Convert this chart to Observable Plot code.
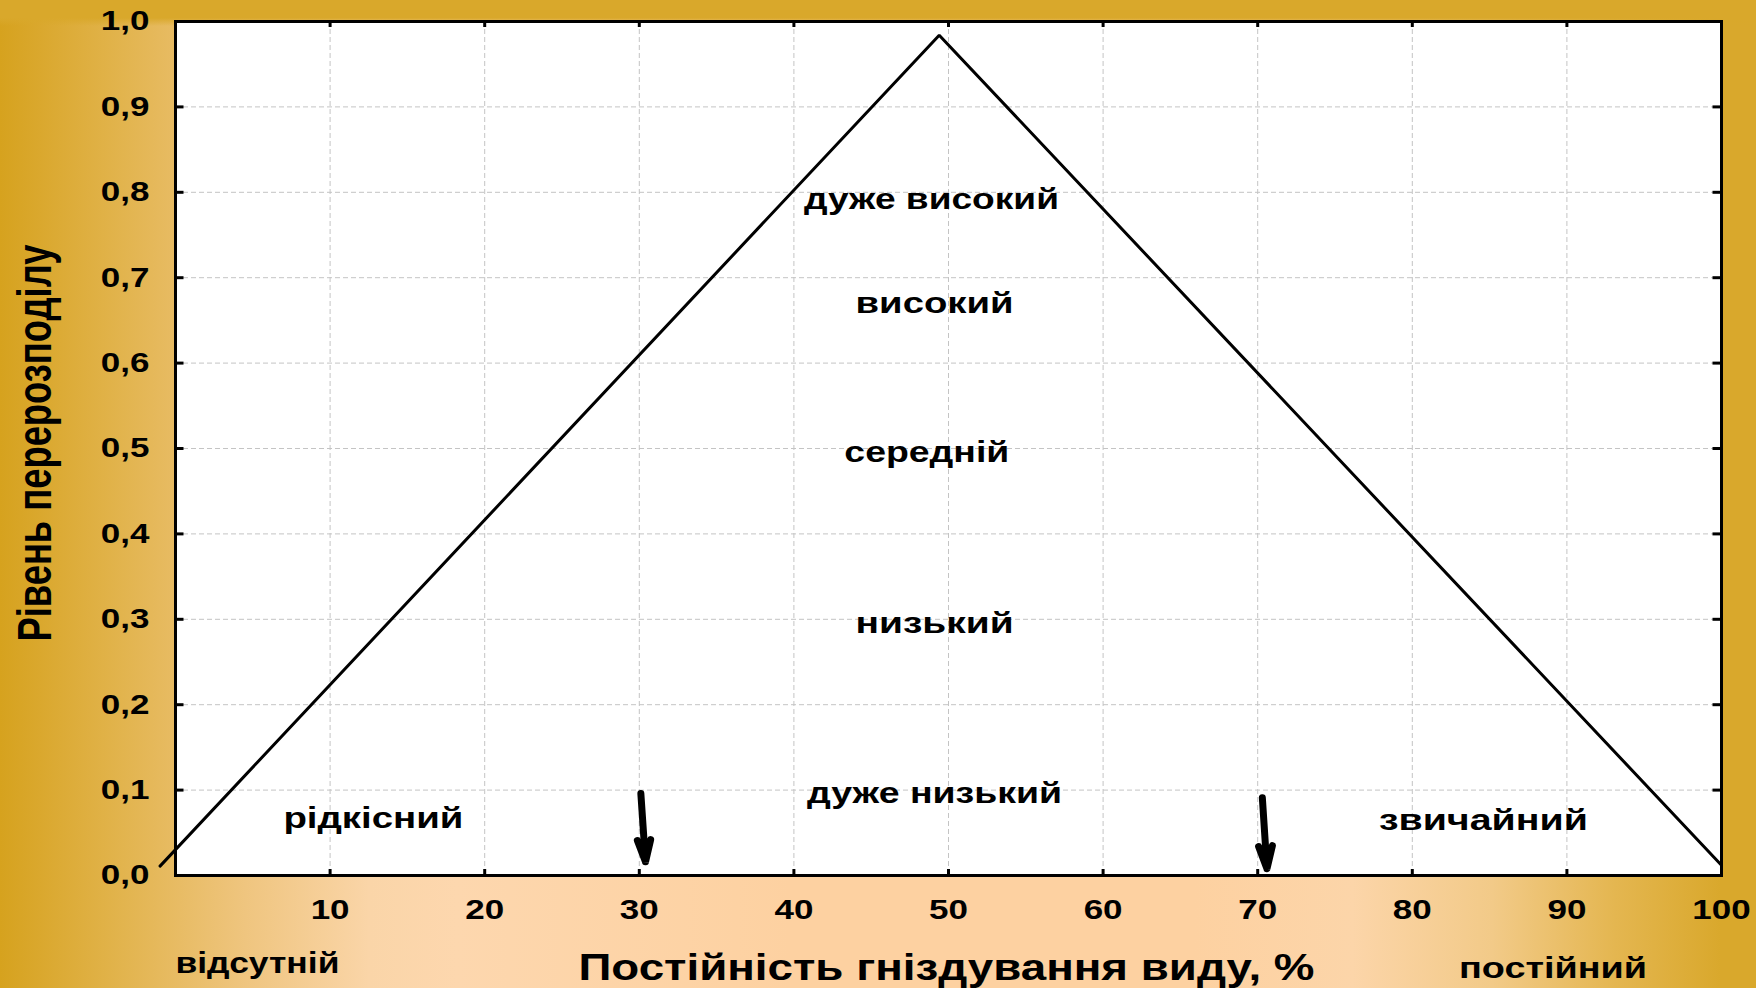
<!DOCTYPE html>
<html><head><meta charset="utf-8">
<script src="https://cdn.jsdelivr.net/npm/d3@7"></script>
<script src="https://cdn.jsdelivr.net/npm/@observablehq/plot@0.6"></script>
<style>
html,body{margin:0;padding:0;background:#D9A82B;}
#wrap{width:1756px;height:988px;position:relative;overflow:hidden;
background:
 linear-gradient(to bottom, #D9A82B 0px, #D9A82B 18px, rgba(217,168,43,0) 26px),
 linear-gradient(to right, #D6A21E 0%, #E2B44E 7%, #EFC57F 14%, #FAD5A8 21%, #FDD7AE 26%, #FDD1A1 45%, #FDD1A1 68%, #FCD5A9 77%, #F2CA88 85%, #E4B650 92%, #D9A82C 98%, #D9A82C 100%);}
#wrap svg{display:block;max-width:none;overflow:visible;}
</style></head><body><div id="wrap"></div>
<script>
// ---- data ----
const xTickLabels = [10, 20, 30, 40, 50, 60, 70, 80, 90, 100];
const xTickMarks = [0, 10, 20, 30, 40, 50, 60, 70, 80, 90, 100];
const xGrid = [10, 20, 30, 40, 50, 60, 70, 80, 90];
const yTicks = [0, 0.1, 0.2, 0.3, 0.4, 0.5, 0.6, 0.7, 0.8, 0.9, 1.0];
const yGrid = [0.1, 0.2, 0.3, 0.4, 0.5, 0.6, 0.7, 0.8, 0.9];

const curveX = [-1.0, 49.4, 100];
const curveY = [0.011, 0.984, 0.012];

const arrowX1 = [30.1, 70.3];
const arrowY1 = [0.096, 0.091];
const arrowX2 = [30.4, 70.6];
const arrowY2 = [0.016, 0.008];

const zoneNames = ["дуже високий", "високий", "середній", "низький", "дуже низький", "рідкісний", "звичайний"];
const zoneX = [48.9, 49.1, 48.6, 49.1, 49.1, 12.8, 84.6];
const zoneY = [0.791, 0.669, 0.495, 0.295, 0.096, 0.066, 0.064];

const endNames = ["відсутній", "постійний"];
const endX = [5.3, 89.1];
const endY = [-0.103, -0.109];

const xTitle = "Постійність гніздування виду, %";
const yTitle = "Рівень перерозподілу";

// ---- build tables ----
const curve = curveX.map((x, i) => ({x, y: curveY[i]}));
const arrows = arrowX1.map((x1, i) => ({x1, y1: arrowY1[i], x2: arrowX2[i], y2: arrowY2[i]}));
const zones = zoneNames.map((t, i) => ({t, x: zoneX[i], y: zoneY[i]}));
const ends = endNames.map((t, i) => ({t, x: endX[i], y: endY[i]}));

const FONT = "Liberation Sans, Arial, sans-serif";
const fmt = d => d.toFixed(1).replace(".", ",");

const svg = Plot.plot({
  width: 1756, height: 988,
  marginLeft: 175, marginRight: 35, marginTop: 21, marginBottom: 113,
  style: {background: "transparent", fontFamily: FONT, overflow: "visible"},
  x: {domain: [0, 100]},
  y: {domain: [0, 1]},
  marks: [
    Plot.frame({fill: "white", stroke: null}),
    Plot.gridX(xGrid, {stroke: "#c4c4c4", strokeOpacity: 1, strokeWidth: 1, strokeDasharray: "5,3"}),
    Plot.gridY(yGrid, {stroke: "#c4c4c4", strokeOpacity: 1, strokeWidth: 1, strokeDasharray: "5,3"}),
    // inward ticks on all four sides
    Plot.ruleX(xTickMarks, {x: d => d, y1: 0, y2: 0.007, stroke: "black", strokeWidth: 3}),
    Plot.ruleX(xTickMarks, {x: d => d, y1: 1, y2: 0.993, stroke: "black", strokeWidth: 3}),
    Plot.ruleY(yTicks, {y: d => d, x1: 0, x2: 0.55, stroke: "black", strokeWidth: 3}),
    Plot.ruleY(yTicks, {y: d => d, x1: 100, x2: 99.45, stroke: "black", strokeWidth: 3}),
    Plot.frame({stroke: "black", strokeWidth: 3}),
    Plot.axisX({ticks: xTickLabels, tickSize: 0, tickPadding: 24, label: null,
      fontSize: 28, fontWeight: "bold", fill: "black", tickFormat: d => String(d)}),
    Plot.axisY({ticks: yTicks, tickSize: 0, tickPadding: 26, label: null,
      fontSize: 28, fontWeight: "bold", fill: "black", tickFormat: fmt}),
    Plot.line(curve, {x: "x", y: "y", stroke: "black", strokeWidth: 3, strokeLinejoin: "miter"}),
    Plot.arrow(arrows, {x1: "x1", y1: "y1", x2: "x2", y2: "y2", stroke: "black",
      strokeWidth: 7, headLength: 6, headAngle: 34, strokeLinejoin: "miter"}),
    Plot.text(zones, {x: "x", y: "y", text: "t", fontSize: 29, fontWeight: "bold",
      fill: "black", lineAnchor: "middle", textAnchor: "middle"}),
    Plot.text(ends, {x: "x", y: "y", text: "t", fontSize: 30, fontWeight: "bold",
      fill: "black", lineAnchor: "middle", textAnchor: "middle"}),
    Plot.text([xTitle], {frameAnchor: "bottom", text: d => d, dx: -2, dy: 93,
      fontSize: 36, fontWeight: "bold", fill: "black", lineAnchor: "middle", textAnchor: "middle"}),
    Plot.text([yTitle], {frameAnchor: "left", text: d => d, dx: -140, dy: -5.5, rotate: -90,
      fontSize: 48, fontWeight: "bold", fill: "black", lineAnchor: "middle", textAnchor: "middle"})
  ]
});

document.getElementById("wrap").appendChild(svg);

// text widths to mimic the (horizontally stretched) source slide
const targetWidths = {
  "дуже високий": 255, "високий": 158, "середній": 165, "низький": 158,
  "дуже низький": 255, "рідкісний": 180, "звичайний": 209,
  "відсутній": 164, "постійний": 188,
  [xTitle]: 736, [yTitle]: 397
};
svg.querySelectorAll("text").forEach(t => {
  const s = t.textContent;
  let w = targetWidths[s];
  if (w == null) {
    const g = t.closest("g[aria-label]");
    const lab = g ? g.getAttribute("aria-label") : "";
    if (lab.includes("tick label")) w = t.getComputedTextLength() * 1.25;
  }
  if (w != null) {
    t.setAttribute("textLength", w);
    t.setAttribute("lengthAdjust", "spacingAndGlyphs");
  }
});
</script>
</body></html>
